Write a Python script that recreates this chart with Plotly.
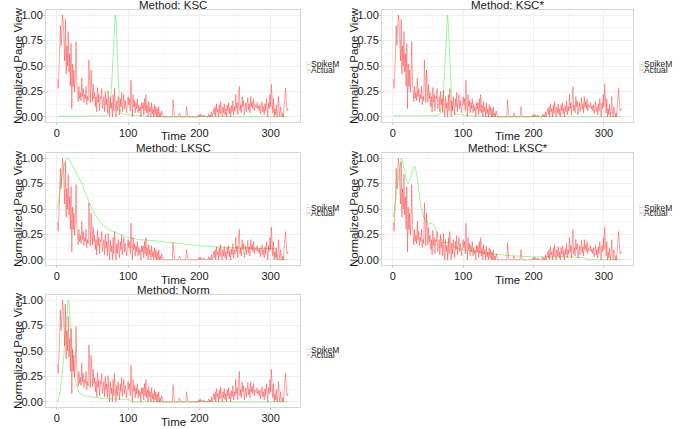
import plotly.graph_objects as go

# ---------------- data ----------------
actual = [
    0.37, 0.28, 0.45, 0.62, 0.90, 0.70, 0.86, 1.00, 0.93, 0.72,
    0.55, 0.96, 0.42, 0.70, 0.50, 0.84, 0.44, 0.62, 0.30, 0.72,
    0.08, 0.52, 0.30, 0.46, 0.24, 0.40, 0.74, 0.35, 0.22, 0.15,
    0.30, 0.18, 0.24, 0.16, 0.38, 0.20, 0.28, 0.14, 0.22, 0.18,
    0.30, 0.12, 0.20, 0.16, 0.56, 0.22, 0.14, 0.46, 0.20, 0.15,
    0.32, 0.18, 0.24, 0.10, 0.20, 0.05, 0.29, 0.14, 0.22, 0.06,
    0.20, 0.18, 0.28, 0.08, 0.14, 0.20, 0.05, 0.25, 0.12, 0.18,
    0.04, 0.26, 0.10, 0.00, 0.20, 0.08, 0.14, 0.00, 0.22, 0.06,
    0.28, 0.10, 0.00, 0.16, 0.06, 0.20, 0.12, 0.02, 0.18, 0.10,
    0.24, 0.05, 0.14, 0.22, 0.08, 0.16, 0.10, 0.04, 0.14, 0.20,
    0.12, 0.18, 0.06, 0.36, 0.14, 0.00, 0.22, 0.10, 0.16, 0.04,
    0.14, 0.08, 0.18, 0.04, 0.12, 0.06, 0.10, 0.00, 0.14, 0.08,
    0.14, 0.02, 0.18, 0.06, 0.22, 0.04, 0.12, 0.00, 0.15, 0.05,
    0.10, 0.00, 0.14, 0.03, 0.08, 0.00, 0.12, 0.02, 0.10, 0.00,
    0.08, 0.00, 0.10, 0.00, 0.04, 0.00, 0.06, 0.00, 0.00, 0.00,
    0.00, 0.00, 0.00, 0.00, 0.00, 0.00, 0.00, 0.00, 0.00, 0.00,
    0.00, 0.00, 0.17, 0.00, 0.00, 0.00, 0.00, 0.00, 0.00, 0.00,
    0.00, 0.04, 0.00, 0.00, 0.00, 0.00, 0.00, 0.00, 0.00, 0.00,
    0.00, 0.10, 0.00, 0.00, 0.00, 0.00, 0.00, 0.00, 0.00, 0.00,
    0.00, 0.00, 0.00, 0.00, 0.00, 0.00, 0.00, 0.00, 0.02, 0.00,
    0.03, 0.00, 0.02, 0.01, 0.00, 0.02, 0.00, 0.01, 0.00, 0.00,
    0.00, 0.00, 0.03, 0.00, 0.02, 0.00, 0.05, 0.00, 0.04, 0.08,
    0.02, 0.10, 0.00, 0.13, 0.05, 0.08, 0.00, 0.12, 0.03, 0.15,
    0.06, 0.00, 0.10, 0.04, 0.13, 0.02, 0.08, 0.00, 0.12, 0.06,
    0.14, 0.03, 0.09, 0.00, 0.11, 0.05, 0.16, 0.02, 0.10, 0.06,
    0.22, 0.08, 0.14, 0.02, 0.18, 0.30, 0.06, 0.12, 0.04, 0.20,
    0.10, 0.16, 0.02, 0.09, 0.14, 0.05, 0.12, 0.19, 0.07, 0.13,
    0.04, 0.20, 0.10, 0.15, 0.08, 0.18, 0.06, 0.12, 0.10, 0.09,
    0.14, 0.08, 0.11, 0.06, 0.12, 0.03, 0.09, 0.15, 0.05, 0.10,
    0.02, 0.13, 0.06, 0.18, 0.09, 0.00, 0.14, 0.08, 0.22, 0.10,
    0.32, 0.12, 0.04, 0.18, 0.00, 0.08, 0.02, 0.12, 0.00, 0.05,
    0.20, 0.06, 0.00, 0.10, 0.03, 0.00, 0.04, 0.00, 0.12, 0.18,
    0.28, 0.14, 0.06, 0.08, 0.07,
]
time = list(range(1, len(actual) + 1))

methods = ["KSC", "KSC*", "LKSC", "LKSC*", "Norm"]

ksc_t = [1, 20, 40, 60, 66, 70, 72, 74, 76, 78, 79, 80, 81, 82, 83, 84, 85,
         86, 87, 88, 89, 90, 92, 95, 100, 110, 120, 130, 160, 220, 325]
ksc_v = [0.005, 0.005, 0.005, 0.005, 0.006, 0.01, 0.03, 0.08, 0.20, 0.45, 0.62,
         0.80, 0.93, 1.00, 0.95, 0.78, 0.55, 0.35, 0.20, 0.10, 0.06, 0.04,
         0.03, 0.025, 0.02, 0.015, 0.01, 0.005, 0.003, 0.002, 0.002]

kscs_t = [1, 20, 40, 60, 64, 66, 68, 70, 72, 74, 75, 76, 77, 78, 79, 80, 81,
          82, 83, 84, 85, 86, 88, 91, 96, 105, 115, 125, 160, 220, 325]
kscs_v = [0.01, 0.01, 0.01, 0.01, 0.012, 0.02, 0.04, 0.10, 0.25, 0.50, 0.65,
          0.82, 0.95, 1.00, 0.92, 0.75, 0.55, 0.36, 0.22, 0.12, 0.07, 0.05,
          0.035, 0.03, 0.022, 0.015, 0.01, 0.006, 0.003, 0.002, 0.002]

lksc_t = [1, 3, 5, 8, 11, 13, 15, 17, 20, 25, 30, 35, 40, 45, 50, 56, 65, 75,
          85, 100, 115, 135, 160, 200, 246, 280, 307, 309, 325]
lksc_v = [0.50, 0.60, 0.72, 0.86, 0.95, 0.99, 1.00, 0.99, 0.95, 0.88, 0.82,
          0.75, 0.66, 0.57, 0.49, 0.42, 0.34, 0.29, 0.26, 0.22, 0.20, 0.19,
          0.17, 0.14, 0.12, 0.115, 0.11, 0.00, 0.00]

lkscs_t = [1, 4, 7, 10, 12, 14, 17, 20, 22, 25, 28, 31, 34, 37, 40, 44, 48, 52,
           56, 60, 65, 70, 73, 78, 82, 90, 100, 120, 140, 170, 200, 250, 272,
           278, 325]
lkscs_v = [0.42, 0.58, 0.78, 0.95, 1.00, 0.97, 0.85, 0.77, 0.75, 0.80, 0.88,
           0.92, 0.85, 0.66, 0.52, 0.42, 0.37, 0.36, 0.36, 0.32, 0.24, 0.19,
           0.17, 0.17, 0.16, 0.12, 0.10, 0.08, 0.06, 0.04, 0.03, 0.03, 0.02,
           0.00, 0.00]

norm_t = [1, 4, 7, 10, 12, 14, 15, 16, 17, 18, 20, 22, 24, 26, 29, 33, 38, 47,
          60, 70, 85, 101, 104, 325]
norm_v = [0.00, 0.08, 0.22, 0.45, 0.66, 0.85, 0.95, 1.00, 0.97, 0.85, 0.62,
          0.44, 0.30, 0.20, 0.13, 0.08, 0.06, 0.05, 0.035, 0.03, 0.028, 0.025,
          0.00, 0.00]

spikem_t = [ksc_t, kscs_t, lksc_t, lkscs_t, norm_t]
spikem_v = [ksc_v, kscs_v, lksc_v, lkscs_v, norm_v]

y_ticks = [0, 0.25, 0.5, 0.75, 1.0]
y_ticklabels = ["0.00", "0.25", "0.50", "0.75", "1.00"]
x_ticks = [0, 100, 200, 300]

# ---------------- layout geometry (window px) ----------------
W, H = 688, 429
cols = [(46, 300), (382, 633)]
rows = [(10, 122), (153, 265), (295, 407)]


def px(xw):
    return xw / W


def py(yw):
    return 1 - yw / H


FONT = "Liberation Sans, Arial, sans-serif"
RED = "rgba(255,0,0,0.40)"
GREEN = "rgba(0,230,0,0.38)"
TXT = "#1a1a1a"

fig = go.Figure()
layout = dict(
    width=W, height=H,
    margin=dict(l=0, r=0, t=0, b=0, autoexpand=False),
    paper_bgcolor="white", plot_bgcolor="white",
    font=dict(family=FONT, size=11, color=TXT),
    showlegend=False,
)
annotations = []
shapes = []

for i, m in enumerate(methods):
    r, c = divmod(i, 2)
    x0, x1 = cols[c]
    top, bot = rows[r]
    n = "" if i == 0 else str(i + 1)
    xa, ya = "x" + n, "y" + n

    fig.add_trace(go.Scatter(x=spikem_t[i], y=spikem_v[i], mode="lines",
                             name="SpikeM", line=dict(color=GREEN, width=1),
                             xaxis=xa, yaxis=ya))
    fig.add_trace(go.Scatter(x=time, y=actual, mode="lines", name="Actual",
                             line=dict(color=RED, width=0.9),
                             xaxis=xa, yaxis=ya))

    layout["xaxis" + n] = dict(
        domain=[px(x0), px(x1)], anchor=ya, range=[-15.2, 341.2],
        automargin=False,
        tickvals=x_ticks, showgrid=True, gridcolor="#efefef", gridwidth=1,
        minor=dict(tickvals=[50, 150, 250], showgrid=True, gridcolor="#f7f7f7"),
        zeroline=False, showline=True, linecolor="#d4d4d4", mirror=True,
        ticks="outside", ticklen=2, tickcolor="#c8c8c8",
        ticklabelstandoff=-1,
        tickfont=dict(size=11, color=TXT),
    )
    layout["yaxis" + n] = dict(
        domain=[py(bot), py(top)], anchor=xa, range=[-0.05, 1.05],
        automargin=False,
        tickvals=y_ticks, ticktext=y_ticklabels, showgrid=True,
        gridcolor="#efefef",
        minor=dict(tickvals=[0.125, 0.375, 0.625, 0.875], showgrid=True,
                   gridcolor="#f7f7f7"),
        zeroline=False, showline=True, linecolor="#d4d4d4", mirror=True,
        ticks="outside", ticklen=2, tickcolor="#c8c8c8",
        ticklabelstandoff=-2,
        tickfont=dict(size=11, color=TXT),
    )

    # panel title
    annotations.append(dict(
        text="Method: " + m, xref="paper", yref="paper",
        x=px((x0 + x1) / 2), y=py(top - 5), xanchor="center",
        yanchor="middle", showarrow=False, font=dict(size=11.5, color=TXT),
    ))
    # x-axis title
    annotations.append(dict(
        text="Time", xref="paper", yref="paper",
        x=px((x0 + x1) / 2), y=py(bot + 14.5), xanchor="center",
        yanchor="middle", showarrow=False, font=dict(size=11.5, color=TXT),
    ))
    # y-axis title
    annotations.append(dict(
        text="Normalized Page View", xref="paper", yref="paper",
        x=px(x0 - 28), y=py((top + bot) / 2), xanchor="center",
        yanchor="middle", textangle=-90, showarrow=False,
        font=dict(size=11.5, color=TXT),
    ))

    # legend (ggplot-style, tightly stacked)
    mid = (top + bot) / 2
    for label, col, dy in (("SpikeM", GREEN, -1.5), ("Actual", RED, 4.0)):
        yc = mid + dy
        annotations.append(dict(
            text=label, xref="paper", yref="paper", x=px(x1 + 9),
            y=py(yc), xanchor="left", yanchor="middle", showarrow=False,
            font=dict(size=8.5, color=TXT),
        ))
        shapes.append(dict(
            type="rect", xref="paper", yref="paper",
            x0=px(x1 + 6.5), x1=px(x1 + 10.5),
            y0=py(yc + 3), y1=py(yc - 3),
            line=dict(color="#e6e6e6", width=0.6), fillcolor="white",
        ))
        shapes.append(dict(
            type="line", xref="paper", yref="paper",
            x0=px(x1 + 7), x1=px(x1 + 10),
            y0=py(yc), y1=py(yc),
            line=dict(color=col, width=1),
        ))

layout["annotations"] = annotations
layout["shapes"] = shapes
fig.update_layout(**layout)
# remove the default 8px page margin so the figure fills the window exactly
fig.write_html("out.html",
               config={"displayModeBar": False},
               post_script="document.body.style.margin='0px';")
